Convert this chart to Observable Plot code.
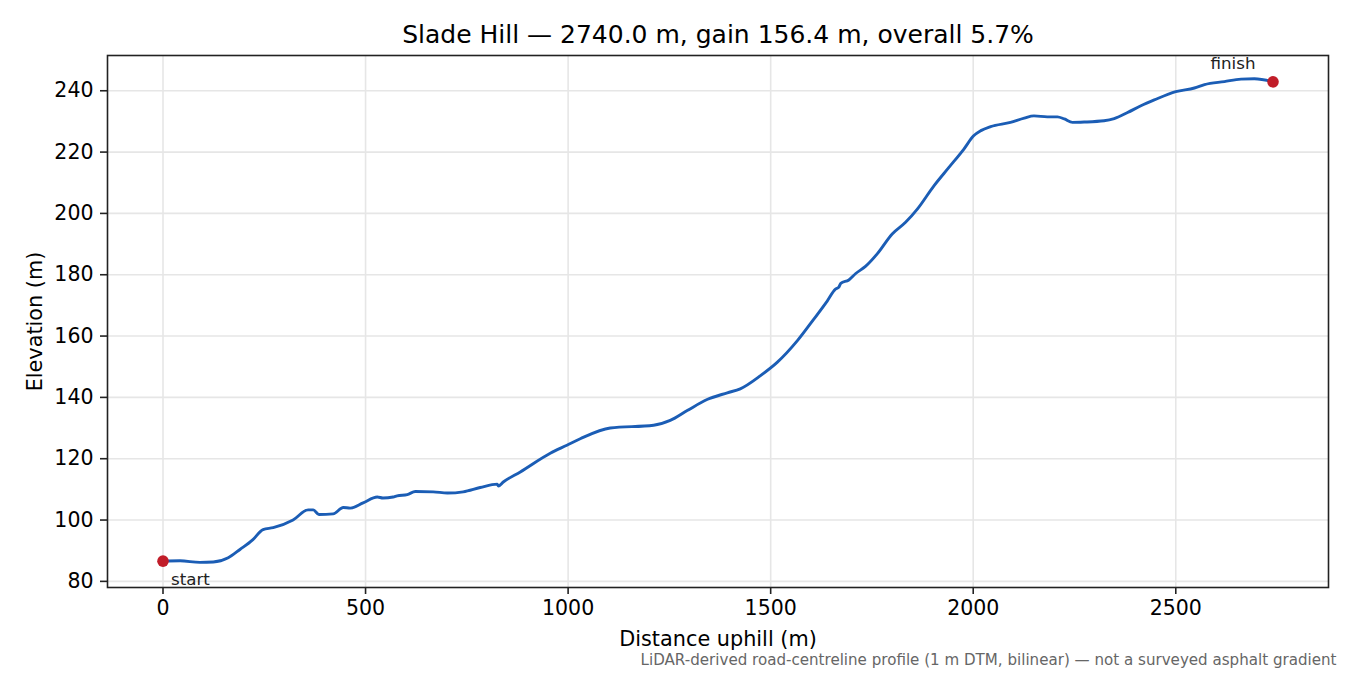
<!DOCTYPE html>
<html>
<head>
<meta charset="utf-8">
<script src="https://cdn.jsdelivr.net/npm/d3@7"></script>
<script src="https://cdn.jsdelivr.net/npm/@observablehq/plot@0.6"></script>
<style>
  html, body { margin: 0; padding: 0; background: #fff; }
  #chart { width: 1350px; height: 675px; }
  svg { font-family: "DejaVu Sans", sans-serif; }
</style>
</head>
<body>
<div id="chart"></div>
<script>
const titleText = "Slade Hill — 2740.0 m, gain 156.4 m, overall 5.7%";
const xLabel = "Distance uphill (m)";
const yLabel = "Elevation (m)";
const captionText = "LiDAR-derived road-centreline profile (1 m DTM, bilinear) — not a surveyed asphalt gradient";

const distance = [0, 42, 91, 124, 161, 190, 222, 247, 272, 321, 358, 371, 385, 420, 445, 462, 494, 529, 543, 568, 578, 603, 623, 667, 702, 741, 783, 825, 828, 840, 882, 956, 997, 1030, 1104, 1211, 1252, 1294, 1343, 1393, 1425, 1475, 1516, 1566, 1607, 1640, 1660, 1668, 1673, 1693, 1710, 1734, 1763, 1800, 1833, 1862, 1903, 1940, 1977, 2001, 2019, 2043, 2092, 2126, 2150, 2183, 2208, 2225, 2245, 2274, 2323, 2348, 2381, 2414, 2447, 2500, 2546, 2571, 2620, 2661, 2694, 2740];
const elevation = [86.6, 86.7, 86.2, 86.3, 87.7, 90.4, 93.6, 96.9, 97.5, 100.0, 103.3, 103.3, 101.8, 102.0, 104.1, 103.9, 105.6, 107.5, 107.2, 107.5, 107.9, 108.3, 109.3, 109.2, 108.8, 109.2, 110.6, 111.7, 111.1, 112.4, 115.7, 121.8, 124.4, 126.5, 130.0, 130.9, 132.5, 135.7, 139.3, 141.5, 142.8, 147.1, 151.4, 158.5, 165.6, 171.5, 175.3, 175.9, 177.2, 178.3, 180.4, 182.7, 186.8, 193.3, 197.1, 201.4, 209.0, 215.0, 221.0, 225.3, 227.0, 228.3, 229.7, 231.1, 231.8, 231.5, 231.5, 230.8, 229.7, 229.8, 230.2, 230.9, 232.9, 235.1, 237.0, 239.7, 240.9, 242.0, 243.0, 243.8, 243.9, 242.9];

const xTicks = [0, 500, 1000, 1500, 2000, 2500];
const yTicks = [80, 100, 120, 140, 160, 180, 200, 220, 240];
const endLabels = ["start", "finish"];

const profile = distance.map((d, i) => ({d, e: elevation[i]}));
const startPt = profile[0];
const finishPt = profile[profile.length - 1];

const font = "DejaVu Sans, sans-serif";
const fmt = d => String(d);

const chart = Plot.plot({
  width: 1350,
  height: 675,
  marginLeft: 107,
  marginRight: 22,
  marginTop: 55,
  marginBottom: 88,
  style: {fontFamily: font, fontSize: "20.5px", color: "#000", background: "#fff"},
  x: {domain: [-137, 2877], ticks: xTicks, tickFormat: fmt, label: null},
  y: {domain: [78.0, 251.5], ticks: yTicks, tickFormat: fmt, label: null},
  marks: [
    Plot.gridX(xTicks, {stroke: "#e6e6e6", strokeOpacity: 1, strokeWidth: 1.6}),
    Plot.gridY(yTicks, {stroke: "#e6e6e6", strokeOpacity: 1, strokeWidth: 1.6}),
    Plot.axisX(xTicks, {tickSize: 7, tickPadding: 6, strokeWidth: 1.6, fontSize: 20.5, stroke: "#222", tickFormat: fmt, label: null}),
    Plot.axisY(yTicks, {tickSize: 7, tickPadding: 7, strokeWidth: 1.6, fontSize: 20.5, stroke: "#222", tickFormat: fmt, label: null}),
    Plot.line(profile, {x: "d", y: "e", stroke: "#1b5db5", strokeWidth: 2.9, curve: "monotone-x", strokeLinejoin: "round", strokeLinecap: "round"}),
    Plot.dot([startPt, finishPt], {x: "d", y: "e", r: 5.8, fill: "#c11d29", stroke: "none"}),
    Plot.text([startPt], {x: "d", y: "e", text: () => endLabels[0], dx: 8, dy: 19, textAnchor: "start", lineAnchor: "middle", fontSize: 16.7, fill: "#222"}),
    Plot.text([finishPt], {x: "d", y: "e", text: () => endLabels[1], dx: -40, dy: -18, textAnchor: "middle", lineAnchor: "middle", fontSize: 16.7, fill: "#222"}),
    Plot.frame({stroke: "#222", strokeWidth: 1.6}),
    Plot.text([titleText], {text: d => d, frameAnchor: "top", dy: -21, textAnchor: "middle", lineAnchor: "middle", fontSize: 25, fill: "#000"}),
    Plot.text([xLabel], {text: d => d, frameAnchor: "bottom", dy: 52, textAnchor: "middle", lineAnchor: "middle", fontSize: 20.8, fill: "#000"}),
    Plot.text([yLabel], {text: d => d, frameAnchor: "left", dx: -72, rotate: -90, textAnchor: "middle", lineAnchor: "middle", fontSize: 20.8, fill: "#000"}),
    Plot.text([captionText], {text: d => d, frameAnchor: "bottom-right", dx: 8, dy: 73, textAnchor: "end", lineAnchor: "middle", fontSize: 15.1, fill: "#666"})
  ]
});
document.getElementById("chart").appendChild(chart);
</script>
</body>
</html>
